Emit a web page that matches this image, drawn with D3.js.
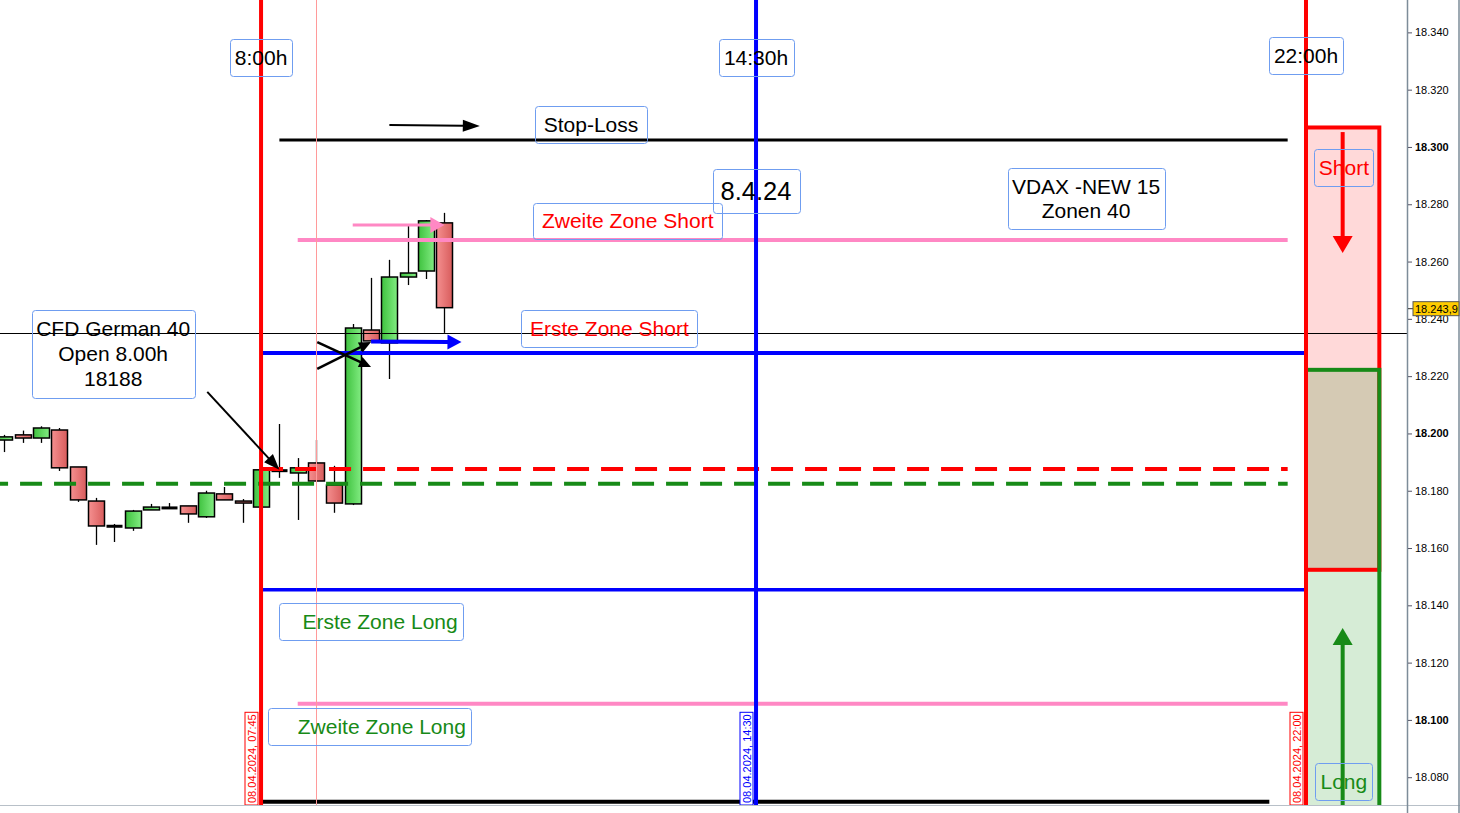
<!DOCTYPE html>
<html><head><meta charset="utf-8">
<script src="https://cdn.jsdelivr.net/npm/d3@7"></script>
<style>html,body{margin:0;padding:0;background:#fff;overflow:hidden}svg{display:block;font-family:"Liberation Sans",Arial,sans-serif}</style>
</head><body>
<svg id="chart" width="1460" height="813"></svg>
<script>
// ---------- DATA ----------
const day = "08.04.2024";
const candleTimes = ["04:15","04:30","04:45","05:00","05:15","05:30","05:45","06:00","06:15","06:30","06:45","07:00","07:15","07:30","07:45","08:00","08:15","08:30","08:45","09:00","09:15","09:30","09:45","10:00","10:15"];
const candleOpen  = [18197.7,18199.5,18198.4,18201.2,18188.3,18176.4,18167.7,18167.0,18173.3,18174.0,18174.7,18170.9,18178.9,18176.4,18174.3,18187.0,18186.2,18189.7,18182.0,18175.4,18236.1,18231.6,18254.6,18256.7,18273.5];
const candleHigh  = [18199.5,18201.0,18202.5,18201.9,18188.3,18177.5,18168.4,18173.3,18175.4,18175.7,18174.7,18180.0,18181.3,18177.1,18187.8,18203.3,18191.4,18197.7,18188.7,18238.2,18254.3,18260.6,18273.1,18274.5,18277.0];
const candleLow   = [18193.5,18196.7,18196.7,18186.9,18176.1,18161.1,18162.1,18166.0,18173.3,18173.7,18168.8,18170.5,18176.8,18168.8,18174.3,18184.5,18169.8,18183.4,18172.3,18175.0,18232.3,18219.0,18251.8,18253.9,18235.1];
const candleClose = [18198.8,18198.4,18201.9,18188.0,18176.8,18167.7,18167.5,18172.9,18174.3,18174.0,18171.9,18179.2,18176.8,18175.7,18187.3,18187.0,18188.0,18183.4,18175.7,18236.8,18232.3,18254.6,18256.0,18274.2,18243.9];

const lastPrice = 18243.9;
const crosshairValue = 18235.1;

const levelNames  = ["stop","zweiteShort","ersteShort","open","greenDash","ersteLong","zweiteLong","bottom"];
const levelValues = [18302.4,18267.5,18228.1,18187.6,18182.4,18145.4,18105.6,18071.4];
const levelStart  = ["08:00","08:15","07:45","07:45","04:00","07:45","08:15","07:45"];
const levelEnd    = ["21:45","21:45","22:00","21:45","21:45","22:00","21:45","21:30"];

const vlineNames = ["start","marker","us","end"];
const vlineTimes = ["07:45","08:30","14:30","22:00"];
const dateLabels = ["08.04.2024, 07:45","08.04.2024, 14:30","08.04.2024, 22:00"];
const dateLabelTimes = ["07:45","14:30","22:00"];

const zoneNames  = ["short","long"];
const zoneLow    = [18152.4,18060.0];
const zoneHigh   = [18306.8,18222.2];
const zoneStart  = "22:00";
const zoneEnd    = "23:00";

const yTicks = [18080,18100,18120,18140,18160,18180,18200,18220,18240,18260,18280,18300,18320,18340];

const annTexts  = [["8:00h"],["14:30h"],["22:00h"],["Stop-Loss"],["8.4.24"],["VDAX -NEW 15","Zonen 40"],["Zweite Zone Short"],["Erste Zone Short"],["CFD German 40","Open 8.00h","18188"],["Erste Zone Long"],["Zweite Zone Long"],["Short"],["Long"]];
const annTimes  = ["07:45","14:30","22:00","12:15","14:30","19:00","12:45","12:30","05:44","09:15","09:14","22:31","22:31"];
const annValues = [18331.1,18331.2,18331.9,18307.9,18284.6,18282.0,18274.2,18236.6,18227.7,18134.4,18097.7,18292.8,18078.5];

const arrowFromT = ["09:30","09:00","09:15","08:31","08:31","07:01","22:30","22:30"];
const arrowFromV = [18307.7,18272.8,18232.1,18231.9,18222.5,18214.5,18305.2,18070.3];
const arrowToT   = ["10:44","10:15","10:29","09:15","09:15","08:00","22:30","22:30"];
const arrowToV   = [18307.3,18272.8,18231.9,18223.2,18231.9,18187.3,18263.0,18132.1];

// ---------- STYLES ----------
const RED="#ff0000", BLUE="#0000ff", GREEN="#178a17", PINK="#ff88c4", BOXC="#6f9df0";
const levelStyle = {
  stop:{c:"#000",w:3}, zweiteShort:{c:PINK,w:4}, ersteShort:{c:BLUE,w:4}, open:{c:RED,w:4,dash:"22,12"},
  greenDash:{c:GREEN,w:4,dash:"22,12"}, ersteLong:{c:BLUE,w:3.5}, zweiteLong:{c:PINK,w:4}, bottom:{c:"#000",w:4}
};
const vlineStyle = {start:{c:RED,w:4}, marker:{c:"#ff9a9a",w:1}, us:{c:BLUE,w:4}, end:{c:RED,w:4}};
const dateLabelColor = [RED,BLUE,RED];
const annStyle = [
  {w:62,h:37,fs:21,c:"#000"},{w:75,h:37,fs:21,c:"#000"},{w:74,h:37,fs:21,c:"#000"},{w:112,h:37,fs:21,c:"#000"},
  {w:87,h:44,fs:25.5,c:"#000"},{w:157,h:61,fs:21,c:"#000",lh:24},{w:189,h:36,fs:21,c:RED},{w:176,h:37,fs:21,c:RED},
  {w:163,h:88,fs:21,c:"#000",lh:25},{w:184,h:37,fs:21,c:GREEN,dx:9},{w:203,h:37,fs:21,c:GREEN,dx:12},
  {w:59,h:37,fs:21,c:RED},{w:57,h:37,fs:21,c:GREEN}
];
const arrowStyle = [
  {c:"#000",w:2,hl:17,hw:12},{c:PINK,w:3,hl:14,hw:16},{c:BLUE,w:4,hl:14,hw:15},{c:"#000",w:2.5,hl:12,hw:11},
  {c:"#000",w:2.5,hl:12,hw:11},{c:"#000",w:2,hl:16,hw:12},{c:RED,w:4,hl:17,hw:20},{c:GREEN,w:4,hl:17,hw:20}
];

// ---------- SCALES ----------
const parse = d3.timeParse("%d.%m.%Y %H:%M");
const T = s => parse(day + " " + s);
const plotBottom = 805, axisX = 1407;
const x = d3.scaleTime().domain([T("04:15"), T("22:00")]).range([4.4, 1306]);
const y = d3.scaleLinear().domain([18070.3, 18351.3]).range([plotBottom, 0]);

const svg = d3.select("#chart");
const defs = svg.append("defs");
const gG = defs.append("linearGradient").attr("id","gGreen");
gG.append("stop").attr("offset","0%").attr("stop-color","#3fc23f");
gG.append("stop").attr("offset","100%").attr("stop-color","#82ec82");
const gR = defs.append("linearGradient").attr("id","gRed");
gR.append("stop").attr("offset","0%").attr("stop-color","#f59090");
gR.append("stop").attr("offset","100%").attr("stop-color","#d85c5c");
defs.append("clipPath").attr("id","plotClip").append("rect").attr("x",0).attr("y",0).attr("width",axisX).attr("height",plotBottom);

const plot = svg.append("g").attr("clip-path","url(#plotClip)");

// zones
const zx0 = x(T(zoneStart)), zx1 = x(T(zoneEnd));
const zoneFill = {short:"#ffd9d9", long:"#d6ecd6"};
zoneNames.forEach((z,i)=>{
  plot.append("rect").attr("x",zx0).attr("width",zx1-zx0)
    .attr("y",y(zoneHigh[i])).attr("height",y(zoneLow[i])-y(zoneHigh[i])).attr("fill",zoneFill[z]);
});
const ovTop = Math.min(zoneHigh[0],zoneHigh[1]), ovBot = Math.max(zoneLow[0],zoneLow[1]);
plot.append("rect").attr("x",zx0).attr("width",zx1-zx0).attr("y",y(ovTop)).attr("height",y(ovBot)-y(ovTop)).attr("fill","#d5cab4");

// candles
const bw = 16;
candleTimes.forEach((t,i)=>{
  const cx = Math.round(x(T(t)))+0.5;
  const o=candleOpen[i], c=candleClose[i];
  plot.append("line").attr("x1",cx).attr("x2",cx).attr("y1",y(candleHigh[i])).attr("y2",y(candleLow[i]))
    .attr("stroke","#000").attr("stroke-width",1.3);
  const top = y(Math.max(o,c)), bot = y(Math.min(o,c));
  if (bot-top < 2) {
    plot.append("rect").attr("x",cx-bw/2).attr("width",bw).attr("y",(top+bot)/2-1.5).attr("height",3).attr("fill","#000");
  } else {
    plot.append("rect").attr("x",cx-bw/2).attr("width",bw).attr("y",top).attr("height",bot-top)
      .attr("fill", c>o ? "url(#gGreen)" : "url(#gRed)").attr("stroke","#000").attr("stroke-width",1.5);
  }
});

// crosshair
const chy = Math.round(y(crosshairValue))+0.5;
plot.append("line").attr("x1",0).attr("x2",axisX).attr("y1",chy).attr("y2",chy)
  .attr("stroke","#000").attr("stroke-width",1).attr("shape-rendering","crispEdges");

// level lines
levelNames.forEach((n,i)=>{
  const s = levelStyle[n];
  plot.append("line").attr("x1",x(T(levelStart[i]))).attr("x2",x(T(levelEnd[i])))
    .attr("y1",y(levelValues[i])).attr("y2",y(levelValues[i]))
    .attr("stroke",s.c).attr("stroke-width",s.w).attr("stroke-dasharray",s.dash||null);
});

// zone borders
plot.append("rect").attr("x",zx0).attr("width",zx1-zx0).attr("y",y(zoneHigh[0])).attr("height",y(zoneLow[0])-y(zoneHigh[0]))
  .attr("fill","none").attr("stroke",RED).attr("stroke-width",4);
plot.append("rect").attr("x",zx0).attr("width",zx1-zx0).attr("y",y(zoneHigh[1])).attr("height",y(zoneLow[1])-y(zoneHigh[1]))
  .attr("fill","none").attr("stroke",GREEN).attr("stroke-width",4);

// vertical lines
vlineNames.forEach((n,i)=>{
  const s = vlineStyle[n];
  let vx = x(T(vlineTimes[i]));
  if (s.w === 1) vx = Math.round(vx)+0.5;
  plot.append("line").attr("x1",vx).attr("x2",vx).attr("y1",0).attr("y2",plotBottom)
    .attr("stroke",s.c).attr("stroke-width",s.w);
});

// arrows
arrowFromT.forEach((t,i)=>{
  const s = arrowStyle[i];
  const x1=x(T(t)), y1=y(arrowFromV[i]), x2=x(T(arrowToT[i])), y2=y(arrowToV[i]);
  const dx=x2-x1, dy=y2-y1, L=Math.hypot(dx,dy), ux=dx/L, uy=dy/L;
  const bx=x2-ux*s.hl, by=y2-uy*s.hl;
  plot.append("line").attr("x1",x1).attr("y1",y1).attr("x2",bx+ux*1).attr("y2",by+uy*1)
    .attr("stroke",s.c).attr("stroke-width",s.w);
  const px=-uy, py=ux;
  plot.append("polygon").attr("points",[[x2,y2],[bx+px*s.hw/2,by+py*s.hw/2],[bx-px*s.hw/2,by-py*s.hw/2]].map(p=>p.join(",")).join(" "))
    .attr("fill",s.c);
});

// date labels (vertical)
dateLabels.forEach((lab,i)=>{
  const vx = x(T(dateLabelTimes[i]));
  const g = plot.append("g").attr("transform",`translate(${Math.round(vx)-2.5},${plotBottom}) rotate(-90)`);
  const txt = g.append("text").attr("x",2).attr("y",-3).attr("font-size",11).attr("fill",dateLabelColor[i]).text(lab);
  const w = txt.node().getComputedTextLength();
  g.insert("rect","text").attr("x",0).attr("y",-13.5).attr("width",w+4).attr("height",13)
    .attr("fill","#fff").attr("stroke",dateLabelColor[i]).attr("stroke-width",1);
});

// annotation boxes
annTexts.forEach((lines,i)=>{
  const s = annStyle[i];
  const cx = x(T(annTimes[i])), cy = y(annValues[i]);
  plot.append("rect").attr("x",Math.round(cx-s.w/2)+0.5).attr("y",Math.round(cy-s.h/2)+0.5).attr("width",s.w).attr("height",s.h)
    .attr("rx",3).attr("fill","none").attr("stroke",BOXC).attr("stroke-width",1);
  const lh = s.lh || s.fs*1.2;
  const t = plot.append("text").attr("text-anchor","middle").attr("font-size",s.fs).attr("fill",s.c);
  lines.forEach((ln,j)=>{
    t.append("tspan").attr("x",cx+(s.dx||0)).attr("y",cy + (j-(lines.length-1)/2)*lh).attr("dy","0.35em").text(ln);
  });
});

// ---------- AXES ----------
svg.append("line").attr("x1",0).attr("x2",1460).attr("y1",plotBottom+0.5).attr("y2",plotBottom+0.5).attr("stroke","#b8c0c8").attr("stroke-width",1);
svg.append("line").attr("x1",axisX+0.5).attr("x2",axisX+0.5).attr("y1",0).attr("y2",813).attr("stroke","#7d8c99").attr("stroke-width",1.5);
svg.append("line").attr("x1",1459).attr("x2",1459).attr("y1",0).attr("y2",813).attr("stroke","#7d8c99").attr("stroke-width",1.5);

const fmt = v => d3.format(",.0f")(v).replace(/,/g,".");
const axis = d3.axisRight(y).tickValues(yTicks).tickSize(4).tickPadding(3).tickFormat(fmt);
const ag = svg.append("g").attr("transform",`translate(${axisX+1},0)`).call(axis);
ag.select(".domain").remove();
ag.selectAll(".tick line").attr("stroke","#556");
ag.selectAll(".tick text").attr("font-size",11).attr("font-family","Liberation Sans, Arial, sans-serif").attr("fill","#000")
  .attr("font-weight",d=>d%100===0?"bold":"normal");

// last price label
const lp = y(lastPrice)+1;
svg.append("line").attr("x1",axisX+1).attr("x2",axisX+6).attr("y1",lp).attr("y2",lp).attr("stroke","#333");
svg.append("rect").attr("x",1413).attr("y",lp-7).attr("width",46).attr("height",14).attr("fill","#ffcc00").attr("stroke","#555").attr("stroke-width",1);
svg.append("text").attr("x",1415).attr("y",lp+4).attr("font-size",11).attr("fill","#000").text(d3.format(",.1f")(lastPrice).replace(/,/g,"#").replace(".",",").replace(/#/g,"."));
</script>
</body></html>
